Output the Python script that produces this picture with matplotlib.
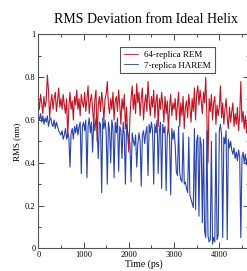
import numpy as np
import matplotlib
matplotlib.use('Agg')
import matplotlib.pyplot as plt
from matplotlib.ticker import MultipleLocator

plt.rcParams['font.family'] = ['Liberation Serif', 'DejaVu Serif']

# time axis, one sample every 25 ps
time_ps = np.arange(0, 4651, 25)

rms_rem = [
    0.70, 0.65, 0.72, 0.68, 0.63, 0.71, 0.66, 0.69, 0.81, 0.74, 0.61, 0.68, 0.72, 0.65, 0.70, 0.73, 0.64, 0.69, 0.75, 0.66,
    0.70, 0.65, 0.72, 0.67, 0.63, 0.70, 0.52, 0.66, 0.73, 0.65, 0.69, 0.60, 0.71, 0.67, 0.74, 0.65, 0.70, 0.62, 0.72, 0.68,
    0.66, 0.73, 0.64, 0.70, 0.76, 0.63, 0.69, 0.72, 0.65, 0.58, 0.70, 0.74, 0.50, 0.67, 0.71, 0.64, 0.73, 0.68, 0.60, 0.70,
    0.72, 0.78, 0.67, 0.63, 0.70, 0.65, 0.73, 0.60, 0.69, 0.71, 0.64, 0.74, 0.67, 0.58, 0.70, 0.65, 0.72, 0.56, 0.66, 0.53,
    0.45, 0.61, 0.70, 0.76, 0.65, 0.72, 0.63, 0.77, 0.68, 0.73, 0.62, 0.70, 0.75, 0.60, 0.68, 0.72, 0.64, 0.78, 0.69, 0.62,
    0.71, 0.66, 0.74, 0.61, 0.69, 0.72, 0.57, 0.70, 0.65, 0.73, 0.67, 0.59, 0.71, 0.63, 0.69, 0.55, 0.66, 0.72, 0.62, 0.68,
    0.65, 0.70, 0.60, 0.67, 0.73, 0.57, 0.68, 0.62, 0.71, 0.56, 0.66, 0.69, 0.61, 0.72, 0.66, 0.59, 0.70, 0.64, 0.75, 0.60,
    0.72, 0.76, 0.67, 0.74, 0.69, 0.63, 0.73, 0.68, 0.80, 0.62, 0.40, 0.70, 0.64, 0.72, 0.60, 0.68, 0.71, 0.58, 0.67, 0.62,
    0.66, 0.76, 0.61, 0.68, 0.58, 0.65, 0.70, 0.61, 0.56, 0.66, 0.59, 0.64, 0.68, 0.57, 0.63, 0.58, 0.66, 0.55, 0.62, 0.78,
    0.59, 0.64, 0.56, 0.62, 0.54, 0.61, 0.58,
]

rms_harem = [
    0.62, 0.60, 0.63, 0.59, 0.62, 0.58, 0.61, 0.59, 0.62, 0.57, 0.60, 0.61, 0.58, 0.57, 0.60, 0.56, 0.59, 0.57, 0.55, 0.54,
    0.53, 0.55, 0.51, 0.53, 0.56, 0.51, 0.54, 0.52, 0.38, 0.54, 0.56, 0.51, 0.57, 0.54, 0.58, 0.53, 0.57, 0.59, 0.35, 0.57,
    0.59, 0.55, 0.60, 0.33, 0.57, 0.61, 0.54, 0.59, 0.45, 0.60, 0.55, 0.61, 0.56, 0.42, 0.59, 0.58, 0.26, 0.61, 0.56, 0.60,
    0.54, 0.30, 0.59, 0.55, 0.40, 0.60, 0.56, 0.33, 0.59, 0.54, 0.61, 0.36, 0.57, 0.55, 0.42, 0.59, 0.53, 0.30, 0.58, 0.54,
    0.52, 0.49, 0.31, 0.54, 0.50, 0.48, 0.53, 0.38, 0.49, 0.54, 0.50, 0.29, 0.53, 0.55, 0.49, 0.54, 0.57, 0.34, 0.58, 0.54,
    0.59, 0.55, 0.30, 0.58, 0.54, 0.60, 0.35, 0.55, 0.59, 0.28, 0.58, 0.54, 0.57, 0.27, 0.53, 0.57, 0.52, 0.25, 0.56, 0.51,
    0.55, 0.48, 0.36, 0.34, 0.57, 0.35, 0.32, 0.31, 0.54, 0.30, 0.31, 0.28, 0.26, 0.52, 0.25, 0.23, 0.21, 0.19, 0.56, 0.18,
    0.50, 0.53, 0.15, 0.52, 0.48, 0.12, 0.51, 0.08, 0.05, 0.55, 0.06, 0.03, 0.04, 0.50, 0.02, 0.05, 0.03, 0.54, 0.04, 0.06,
    0.55, 0.58, 0.53, 0.05, 0.52, 0.49, 0.55, 0.04, 0.51, 0.47, 0.50, 0.46, 0.44, 0.47, 0.42, 0.45, 0.41, 0.46, 0.43, 0.05,
    0.42, 0.45, 0.40, 0.44, 0.39, 0.43, 0.41,
]

fig = plt.figure(figsize=(2.47, 2.71), dpi=100)
# right spine sits just past the image edge, like the cropped original
ax = fig.add_axes([38.3 / 247, 22.7 / 271, 210.7 / 247, 213.8 / 271])

l_harem, = ax.plot(time_ps, rms_harem, color='#2842b0', lw=0.8)
l_rem, = ax.plot(time_ps, rms_rem, color='#c41222', lw=0.8)

ax.set_xlim(0, 4656)
ax.set_ylim(0, 1)
ax.xaxis.set_major_locator(MultipleLocator(1000))
ax.xaxis.set_minor_locator(MultipleLocator(500))
ax.yaxis.set_minor_locator(MultipleLocator(0.1))
ax.set_yticks([0, 0.2, 0.4, 0.6, 0.8, 1.0])
ax.set_yticklabels(['0', '0.2', '0.4', '0.6', '0.8', '1'])

ax.tick_params(which='both', direction='in', top=True, right=True,
               colors='#444444', labelcolor='black', labelsize=6, pad=2)
ax.tick_params(which='major', length=4, width=0.7)
ax.tick_params(which='minor', length=2.5, width=0.7)
for s in ax.spines.values():
    s.set_color('#555555')
    s.set_linewidth(0.8)

ax.set_title('RMS Deviation from Ideal Helix', fontsize=10, pad=8, x=0.51)
ax.set_xlabel('Time (ps)', fontsize=7, labelpad=0)
ax.set_ylabel('RMS (nm)', fontsize=6.5, labelpad=3)

leg = ax.legend([l_rem, l_harem], ['64-replica REM', '7-replica HAREM'],
                loc='upper left', bbox_to_anchor=(0.388, 0.941), borderaxespad=0,
                fontsize=6.5, fancybox=False, framealpha=1, edgecolor='#555555',
                handlelength=1.6, handletextpad=0.7, borderpad=0.4,
                labelspacing=0.25)
leg.get_frame().set_linewidth(0.8)
for h in leg.legend_handles:
    h.set_linewidth(0.6)

fig.savefig('out.png', dpi=100)
